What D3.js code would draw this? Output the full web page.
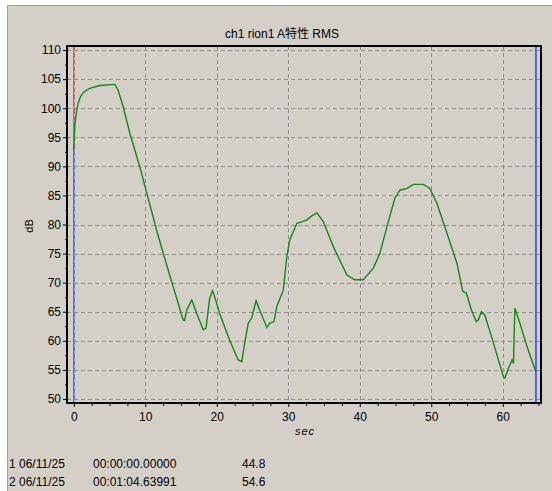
<!DOCTYPE html>
<html>
<head>
<meta charset="utf-8">
<script src="https://cdn.jsdelivr.net/npm/d3@7"></script>
<style>
  html, body { margin: 0; padding: 0; background: #ffffff; }
  svg { display: block; }
  text { font-family: "Liberation Sans", Arial, "Noto Sans CJK JP", sans-serif; }
</style>
</head>
<body>
<svg id="chart" width="552" height="491"></svg>
<script>
// ---- data ----
const title = "ch1 rion1 A特性 RMS";
const yLabel = "dB";
const xLabel = "sec";
const timeSec = [0.0, 0.14, 0.38, 0.6, 0.94, 1.4, 2.24, 3.64, 5.74, 6.2, 6.9, 7.84, 9.24, 11.57, 12.5, 13.9,
  15.3, 15.5, 15.8, 16.5, 17.2, 18.1, 18.5, 19.0, 19.4, 19.7, 20.4, 21.8, 23.0, 23.5, 23.9, 24.4, 24.9,
  25.5, 26.0, 27.0, 27.4, 28.0, 28.4, 29.3, 29.8, 30.2, 31.2, 32.0, 32.6, 33.2, 34.0, 34.9, 36.3, 38.2,
  39.3, 40.5, 41.9, 42.8, 43.8, 44.9, 45.6, 46.6, 47.5, 48.9, 49.8, 50.8, 52.2, 53.6, 54.4, 54.9,
  55.7, 56.3, 56.6, 57.0, 57.5, 58.7, 60.1, 60.3, 60.8, 61.3, 61.5, 61.6, 61.7, 62.4, 63.4, 64.64];
const levelDb = [92.8, 97.1, 99.4, 100.8, 102.0, 102.8, 103.4, 103.9, 104.1, 103.1, 100.3, 95.7, 89.9, 79.1, 75.1, 69.3,
  63.6, 63.5, 65.3, 67.0, 64.7, 61.9, 62.2, 67.3, 68.6, 67.6, 64.7, 60.1, 56.7, 56.4, 59.6, 63.0, 64.0,
  66.9, 65.3, 62.3, 63.0, 63.3, 65.9, 68.7, 74.5, 77.3, 80.2, 80.5, 80.8, 81.4, 82.0, 80.5, 76.2, 71.3,
  70.5, 70.5, 72.5, 75.0, 79.6, 84.5, 85.9, 86.2, 86.9, 86.9, 86.2, 83.6, 78.5, 73.3, 68.5, 68.2,
  65.0, 63.3, 63.6, 65.0, 64.4, 59.6, 53.8, 53.6, 55.3, 56.7, 56.1, 61.3, 65.6, 63.0, 59.0, 54.6];
const xTicks = [0, 10, 20, 30, 40, 50, 60];
const yTicks = [50, 55, 60, 65, 70, 75, 80, 85, 90, 95, 100, 105, 110];
const cursorTimes = [0, 64.64];
const cursorRows = [
  ["1 06/11/25", "00:00:00.00000", "44.8"],
  ["2 06/11/25", "00:01:04.63991", "54.6"]
];

// ---- layout ----
const svg = d3.select("#chart");
const P = { left: 67, right: 541, top: 46, bottom: 403 };
const x = d3.scaleLinear().domain([-0.95, 65.35]).range([P.left, P.right]);
const y = d3.scaleLinear().domain([49.3, 110.7]).range([P.bottom, P.top]);

// panel background
svg.append("rect").attr("x", 7.5).attr("y", 5.5).attr("width", 552).attr("height", 492)
  .attr("fill", "#d4d0c8").attr("stroke", "#a0a0a0").attr("stroke-width", 1);

// title
svg.append("text").attr("x", 282).attr("y", 38).attr("text-anchor", "middle")
  .attr("font-size", 12).attr("fill", "#000").text(title);

// grid
const grid = svg.append("g");
yTicks.forEach(v => {
  grid.append("line").attr("x1", P.left).attr("x2", P.right)
    .attr("y1", Math.round(y(v)) + 0.5).attr("y2", Math.round(y(v)) + 0.5)
    .attr("stroke", "#8e8e8e").attr("stroke-dasharray", "4,3");
});
xTicks.forEach(v => {
  grid.append("line").attr("y1", P.top).attr("y2", P.bottom)
    .attr("x1", Math.round(x(v)) + 0.5).attr("x2", Math.round(x(v)) + 0.5)
    .attr("stroke", "#8e8e8e").attr("stroke-dasharray", "4,3");
});

// axes
const yAxis = d3.axisLeft(y).tickValues(yTicks).tickSize(4).tickPadding(2).tickFormat(d3.format("d"));
const gy = svg.append("g").attr("transform", `translate(${P.left},0)`).call(yAxis);
gy.select(".domain").remove();
gy.selectAll("text").attr("font-size", 12).attr("fill", "#000");
const yMinor = d3.range(50, 110.01, 2.5).filter(v => v % 5 !== 0);
const gym = svg.append("g").attr("transform", `translate(${P.left},0)`)
  .call(d3.axisLeft(y).tickValues(yMinor).tickSize(2).tickFormat(""));
gym.select(".domain").remove();

const xAxis = d3.axisBottom(x).tickValues(xTicks).tickSize(4).tickPadding(5).tickFormat(d3.format("d"));
const gx = svg.append("g").attr("transform", `translate(0,${P.bottom})`).call(xAxis);
gx.select(".domain").remove();
gx.selectAll("text").attr("font-size", 12).attr("fill", "#000");
const xMinor = d3.range(0, 65.01, 2.5).filter(v => v % 10 !== 0);
const gxm = svg.append("g").attr("transform", `translate(0,${P.bottom})`)
  .call(d3.axisBottom(x).tickValues(xMinor).tickSize(3).tickFormat(""));
gxm.select(".domain").remove();

// frame
svg.append("rect").attr("x", P.left).attr("y", P.top)
  .attr("width", P.right - P.left).attr("height", P.bottom - P.top)
  .attr("fill", "none").attr("stroke", "#000").attr("stroke-width", 2);

// axis labels
svg.append("text").attr("transform", `translate(33,226) rotate(-90)`)
  .attr("text-anchor", "middle").attr("font-size", 11).text(yLabel);
svg.append("text").attr("x", 305).attr("y", 435).attr("text-anchor", "middle")
  .attr("font-size", 11).attr("font-style", "italic")
  .attr("font-family", "'DejaVu Serif', serif").attr("letter-spacing", 1).text(xLabel);

// cursors
const firstVal = levelDb[0];
svg.append("line").attr("x1", x(cursorTimes[0])).attr("x2", x(cursorTimes[0]))
  .attr("y1", y(firstVal)).attr("y2", P.bottom - 1).attr("stroke", "#4a6cf0").attr("stroke-width", 1.5);
svg.append("line").attr("x1", x(cursorTimes[0])).attr("x2", x(cursorTimes[0]))
  .attr("y1", P.top + 1).attr("y2", y(firstVal)).attr("stroke", "#f04040").attr("stroke-width", 1.2);
svg.append("line").attr("x1", x(cursorTimes[1])).attr("x2", x(cursorTimes[1]))
  .attr("y1", P.top + 1).attr("y2", P.bottom - 1).attr("stroke", "#5060ff").attr("stroke-width", 2);

// data line
const data = timeSec.map((t, i) => ({ t, v: levelDb[i] }));
svg.append("path").datum(data)
  .attr("fill", "none").attr("stroke", "#138a13").attr("stroke-width", 1.4)
  .attr("d", d3.line().x(d => x(d.t)).y(d => y(d.v)));

// cursor readouts
const colX = [9, 93, 242];
cursorRows.forEach((row, r) => {
  row.forEach((txt, c) => {
    svg.append("text").attr("x", colX[c]).attr("y", 468 + r * 18)
      .attr("font-size", 12).attr("fill", "#000").text(txt);
  });
});
</script>
</body>
</html>
